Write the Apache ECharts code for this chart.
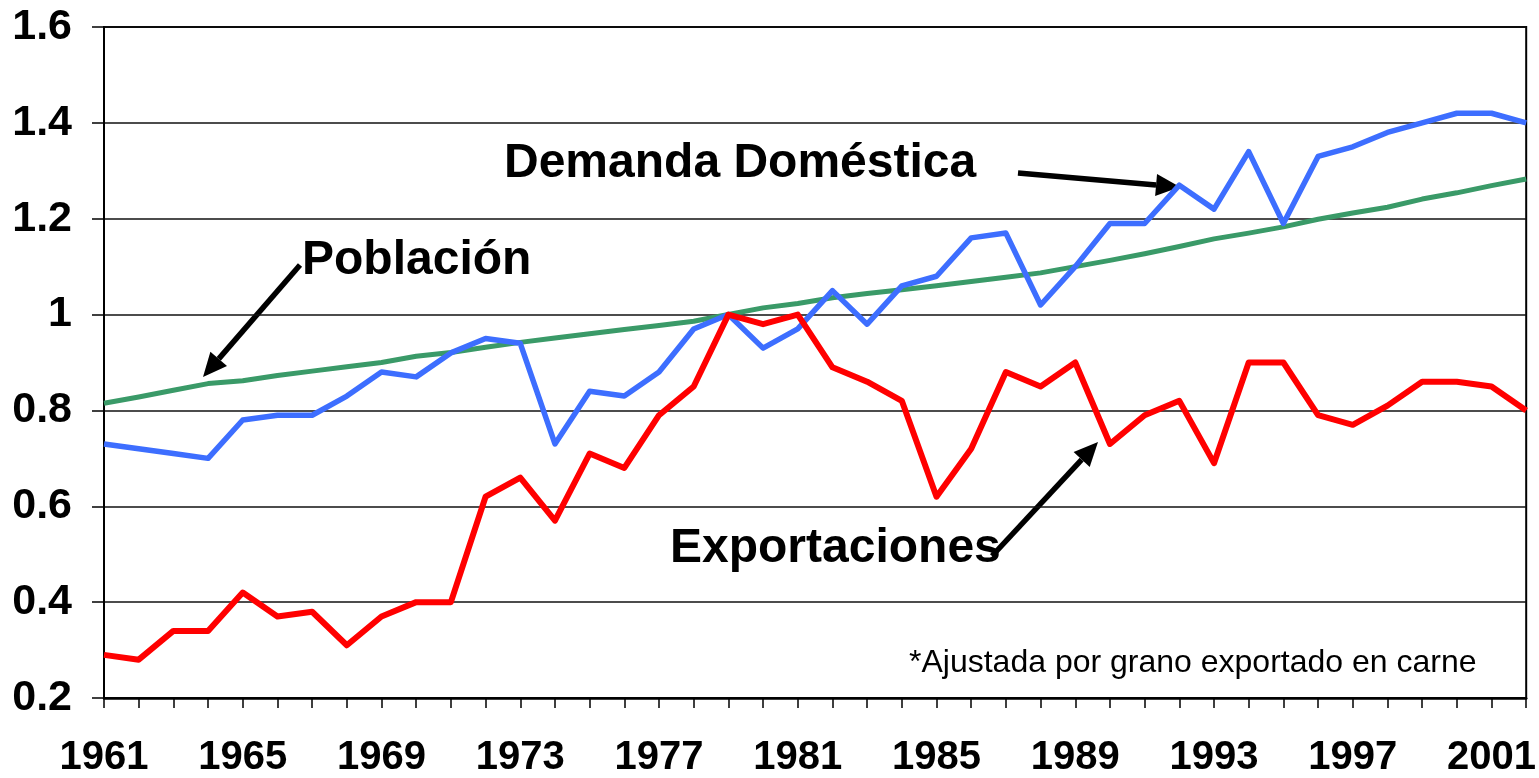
<!DOCTYPE html>
<html>
<head>
<meta charset="utf-8">
<title>Demanda doméstica, población y exportaciones</title>
<script src="https://cdn.jsdelivr.net/npm/echarts@6/dist/echarts.min.js"></script>
<style>
  html, body { margin: 0; padding: 0; background: #fff; }
  #chart { width: 1539px; height: 778px; }
</style>
</head>
<body>
<div id="chart"></div>
<script>
// años
const years = [
  '1961', '1962', '1963', '1964', '1965', '1966', '1967', '1968', '1969', '1970',
  '1971', '1972', '1973', '1974', '1975', '1976', '1977', '1978', '1979', '1980',
  '1981', '1982', '1983', '1984', '1985', '1986', '1987', '1988', '1989', '1990',
  '1991', '1992', '1993', '1994', '1995', '1996', '1997', '1998', '1999', '2000',
  '2001', '2002'
]

// índices (1979 = 1)
const poblacion = [
  0.815, 0.828, 0.842, 0.856, 0.862, 0.873, 0.882, 0.891, 0.900, 0.913,
  0.921, 0.932, 0.942, 0.951, 0.960, 0.969, 0.977, 0.986, 1.000, 1.014,
  1.023, 1.035, 1.044, 1.052, 1.060, 1.069, 1.078, 1.087, 1.100, 1.113,
  1.127, 1.142, 1.158, 1.170, 1.183, 1.199, 1.212, 1.224, 1.241, 1.254,
  1.269, 1.283
]
const demanda = [
  0.73, 0.72, 0.71, 0.70, 0.78, 0.79, 0.79, 0.83, 0.88, 0.87,
  0.92, 0.95, 0.94, 0.73, 0.84, 0.83, 0.88, 0.97, 1.00, 0.93,
  0.97, 1.05, 0.98, 1.06, 1.08, 1.16, 1.17, 1.02, 1.10, 1.19,
  1.19, 1.27, 1.22, 1.34, 1.19, 1.33, 1.35, 1.38, 1.40, 1.42,
  1.42, 1.40
]
const exportaciones = [
  0.29, 0.28, 0.34, 0.34, 0.42, 0.37, 0.38, 0.31, 0.37, 0.40,
  0.40, 0.62, 0.66, 0.57, 0.71, 0.68, 0.79, 0.85, 1.00, 0.98,
  1.00, 0.89, 0.86, 0.82, 0.62, 0.72, 0.88, 0.85, 0.90, 0.73,
  0.79, 0.82, 0.69, 0.90, 0.90, 0.79, 0.77, 0.81, 0.86, 0.86,
  0.85, 0.80
]

const FONT = "'Liberation Sans', Arial, sans-serif"

// flecha de anotación (línea + punta)
function arrow(x1, y1, x2, y2) {
  const ang = Math.atan2(y2 - y1, x2 - x1)
  const len = 24, half = 11
  const bx = x2 - len * Math.cos(ang), by = y2 - len * Math.sin(ang)
  const px = -Math.sin(ang) * half, py = Math.cos(ang) * half
  return {
    type: 'group',
    children: [
      {
        type: 'line',
        shape: { x1: x1, y1: y1, x2: bx, y2: by },
        style: { stroke: '#000', lineWidth: 5.5 }
      },
      {
        type: 'polygon',
        shape: { points: [[x2, y2], [bx + px, by + py], [bx - px, by - py]] },
        style: { fill: '#000' }
      }
    ]
  }
}

function label(text, x, y, size, bold) {
  return {
    type: 'text',
    style: {
      text: text,
      x: x,
      y: y,
      fill: '#000',
      font: (bold ? 'bold ' : '') + size + 'px ' + FONT,
      align: 'left',
      textAlign: 'left',
      verticalAlign: 'middle',
      textVerticalAlign: 'middle'
    }
  }
}

const chart = echarts.init(document.getElementById('chart'))
chart.setOption({
  animation: false,
  backgroundColor: '#fff',
  grid: {
    left: 104,
    right: 12,
    top: 27,
    bottom: 79,
    show: true,
    borderColor: '#000',
    borderWidth: 2
  },
  xAxis: {
    type: 'category',
    data: years,
    boundaryGap: false,
    axisLine: { lineStyle: { color: '#000', width: 2.5 } },
    axisTick: { show: true, interval: 0, length: 10, lineStyle: { color: '#000', width: 1.5 } },
    axisLabel: {
      interval: 3,
      margin: 40,
      color: '#000',
      fontSize: 40,
      fontWeight: 'bold',
      fontFamily: FONT
    },
    splitLine: { show: false }
  },
  yAxis: {
    type: 'value',
    min: 0.2,
    max: 1.6,
    interval: 0.2,
    axisLine: { show: true, lineStyle: { color: '#000', width: 2 } },
    axisTick: { show: true, length: 12, lineStyle: { color: '#000', width: 1.5 } },
    axisLabel: {
      margin: 32,
      color: '#000',
      fontSize: 43,
      fontWeight: 'bold',
      fontFamily: FONT
    },
    splitLine: { show: true, lineStyle: { color: '#111', width: 1.6 } }
  },
  series: [
    {
      name: 'Población',
      type: 'line',
      data: poblacion,
      symbol: 'none',
      lineStyle: { color: '#3a9a68', width: 5, join: 'round' }
    },
    {
      name: 'Demanda Doméstica',
      type: 'line',
      data: demanda,
      symbol: 'none',
      lineStyle: { color: '#3d6eff', width: 5.5, join: 'round' }
    },
    {
      name: 'Exportaciones',
      type: 'line',
      data: exportaciones,
      symbol: 'none',
      lineStyle: { color: '#ff0000', width: 6, join: 'round' }
    }
  ],
  graphic: [
    label('Demanda Doméstica', 504, 164, 48, true),
    label('Población', 302, 261, 48, true),
    label('Exportaciones', 670, 549, 48, true),
    label('*Ajustada por grano exportado en carne', 909, 663, 32, false),
    arrow(1018, 173, 1180, 187),
    arrow(300, 265, 203, 377),
    arrow(992, 556, 1098, 442)
  ]
})

window.addEventListener('resize', () => {
  chart.resize()
})
</script>
</body>
</html>
